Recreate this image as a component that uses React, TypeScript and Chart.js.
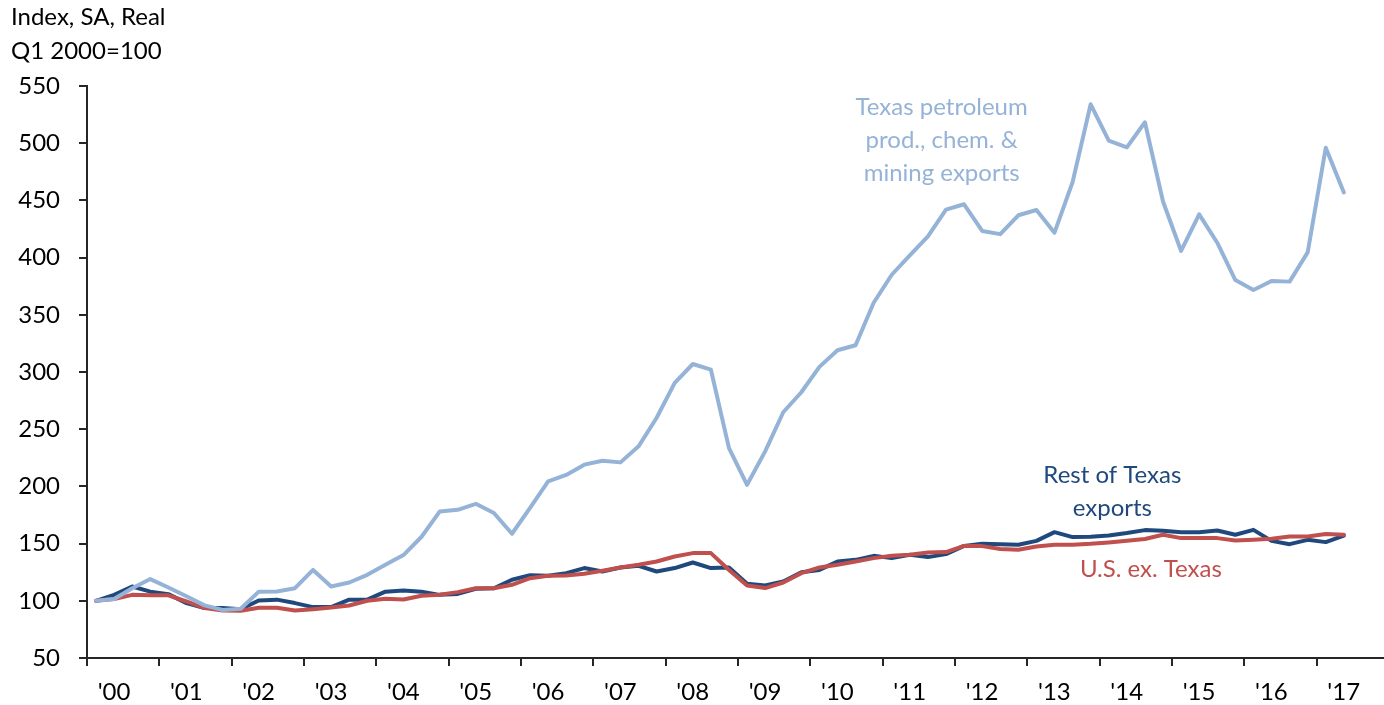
import React, { useEffect, useRef } from "react";
import { Chart, registerables } from "chart.js";

Chart.register(...registerables);

const FONT = "Lato, 'Open Sans', sans-serif";

// Tick labels
const yearLabels = ["'00", "'01", "'02", "'03", "'04", "'05", "'06", "'07", "'08", "'09", "'10", "'11", "'12", "'13", "'14", "'15", "'16", "'17"];
const yTickValues = [50, 100, 150, 200, 250, 300, 350, 400, 450, 500, 550];

// Quarterly index values, Q1 2000 .. Q2 2017 (Q1 2000 = 100)
const petroleumExports = [
  100, 101.5, 111, 119, 111.6, 104, 96, 92, 93, 108, 108.2, 111, 127, 112.5, 116, 122.7,
  131.5, 140, 156, 178, 179.5, 184.8, 176.7, 158.6, 181.3, 204.3, 210, 219, 222.4, 221, 235, 260,
  290.5, 307, 302, 233.5, 201.4, 230.6, 264.8, 282.3, 304.5, 319, 323.4, 360.5, 385, 402, 418.6, 442,
  446.6, 423.3, 420.5, 437, 441.6, 421.8, 466, 534, 502.2, 496.4, 518.3, 449, 405.8, 437.8, 413, 380.4,
  371.7, 379.5, 379, 404.6, 496, 457,
];
const restOfTexasExports = [
  100, 105.2, 112.5, 108, 105.8, 98, 93.6, 93.6, 92.7, 100.3, 101, 98, 94.5, 94.5, 101, 101,
  108, 109, 108, 105.2, 106, 110.5, 111, 118.4, 122.4, 121.9, 124.2, 128.6, 125.6, 129.1, 130.6, 125.6,
  128.6, 133.5, 128.6, 129.1, 114.9, 113.4, 116.9, 125, 127, 134.4, 135.8, 139.3, 137.3, 140.2, 138.2, 140.8,
  148, 149.8, 149.5, 149, 152.4, 160, 155.7, 156, 157, 159.2, 161.8, 161.2, 160, 160, 161.5, 157.7,
  162, 152.4, 149.5, 153.3, 151.3, 157,
];
const usExTexasExports = [
  100, 101.5, 105.2, 104.8, 104.8, 99.4, 93.6, 91.5, 91.3, 94, 94, 91.5, 92.7, 94.1, 95.9, 100,
  101.7, 101.2, 104.4, 105.2, 107.6, 111, 111, 114, 119.8, 121.9, 122.1, 123.6, 126.2, 129.1, 131.5, 134.4,
  138.7, 141.7, 141.7, 127, 113.4, 111.1, 116, 124.2, 129.1, 131.5, 134.4, 137.3, 139.3, 140.2, 142.2, 142.6,
  148, 147.8, 145.2, 144.6, 147.5, 149, 149, 149.8, 151, 152.4, 154, 157.7, 154.8, 154.8, 154.8, 152.7,
  153.3, 154.2, 156.2, 156.2, 158.3, 157.7,
];

const LIGHT_BLUE = "#95B3D7";
const DARK_BLUE = "#1F497D";
const RED = "#C0504D";

// Series labels placed in data coordinates (quarter index, index value = text baseline)
const seriesLabels = [
  { lines: ["Texas petroleum", "prod., chem. &", "mining exports"], x: 46.76, y: [524.7, 495.8, 467], color: LIGHT_BLUE },
  { lines: ["Rest of Texas", "exports"], x: 56.2, y: [202.7, 174.1], color: DARK_BLUE },
  { lines: ["U.S. ex. Texas"], x: 58.33, y: [121.1], color: RED },
];

const titleLines = ["Index, SA, Real", "Q1 2000=100"];

const toPoints = (arr: number[]) => arr.map((v, i) => ({ x: i, y: v }));

const textPlugin = {
  id: "textLabels",
  afterDatasetsDraw(chart: any) {
    const { ctx, scales } = chart;
    const xs = scales.x;
    const ys = scales.y;
    ctx.save();
    ctx.font = `24px ${FONT}`;
    ctx.textAlign = "center";
    ctx.textBaseline = "alphabetic";
    for (const s of seriesLabels) {
      ctx.fillStyle = s.color;
      s.lines.forEach((line, k) => {
        ctx.fillText(line, xs.getPixelForValue(s.x), ys.getPixelForValue(s.y[k]));
      });
    }
    ctx.fillStyle = "#000";
    ctx.textAlign = "left";
    ctx.fillText(titleLines[0], 11, 25);
    ctx.fillText(titleLines[1], 11, 59);
    ctx.restore();
  },
};

export default function App() {
  const canvasRef = useRef<HTMLCanvasElement | null>(null);

  useEffect(() => {
    document.body.style.margin = "0";
    const canvas = canvasRef.current;
    if (!canvas) return;
    const AXIS = "#262626";
    const chart = new Chart(canvas, {
      type: "line",
      data: {
        datasets: [
          {
            label: "Texas petroleum prod., chem. & mining exports",
            data: toPoints(petroleumExports),
            borderColor: LIGHT_BLUE,
            borderWidth: 4,
            pointRadius: 0,
            tension: 0,
            borderJoinStyle: "round",
            borderCapStyle: "round",
          },
          {
            label: "U.S. ex. Texas",
            data: toPoints(usExTexasExports),
            borderColor: RED,
            borderWidth: 4,
            pointRadius: 0,
            tension: 0,
            borderJoinStyle: "round",
            borderCapStyle: "round",
          },
          {
            label: "Rest of Texas exports",
            data: toPoints(restOfTexasExports),
            borderColor: DARK_BLUE,
            borderWidth: 4,
            pointRadius: 0,
            tension: 0,
            borderJoinStyle: "round",
            borderCapStyle: "round",
          },
        ],
      },
      options: {
        animation: false,
        responsive: true,
        maintainAspectRatio: false,
        layout: { padding: { top: 86, left: 0, right: 0, bottom: 0 } },
        plugins: {
          legend: { display: false },
          tooltip: { enabled: false },
          title: { display: false },
        },
        scales: {
          x: {
            type: "linear",
            min: -0.5,
            max: 71.22,
            afterBuildTicks: (scale: any) => {
              scale.ticks = yearLabels.map((_, k) => ({ value: -0.5 + 4 * k }));
            },
            afterFit: (scale: any) => {
              scale.height = 47;
            },
            ticks: {
              autoSkip: false,
              maxRotation: 0,
              padding: 12,
              labelOffset: 27,
              color: "#000",
              font: { family: FONT, size: 24 },
              callback: (value: any) => yearLabels[Math.round((Number(value) + 0.5) / 4)] ?? "",
            },
            grid: { drawOnChartArea: false, drawTicks: true, tickLength: 8, color: AXIS, lineWidth: 2 },
            border: { display: true, color: AXIS, width: 2 },
          },
          y: {
            type: "linear",
            min: 50,
            max: 550,
            afterBuildTicks: (scale: any) => {
              scale.ticks = yTickValues.map((v) => ({ value: v }));
            },
            afterFit: (scale: any) => {
              scale.width = 87;
            },
            ticks: {
              padding: 19,
              color: "#000",
              font: { family: FONT, size: 24 },
            },
            grid: { drawOnChartArea: false, drawTicks: true, tickLength: 8, color: AXIS, lineWidth: 2 },
            border: { display: true, color: AXIS, width: 2 },
          },
        },
      },
      plugins: [textPlugin],
    } as any);
    return () => chart.destroy();
  }, []);

  return (
    <div style={{ width: 1384, height: 705, position: "relative" }}>
      <canvas ref={canvasRef} />
    </div>
  );
}
